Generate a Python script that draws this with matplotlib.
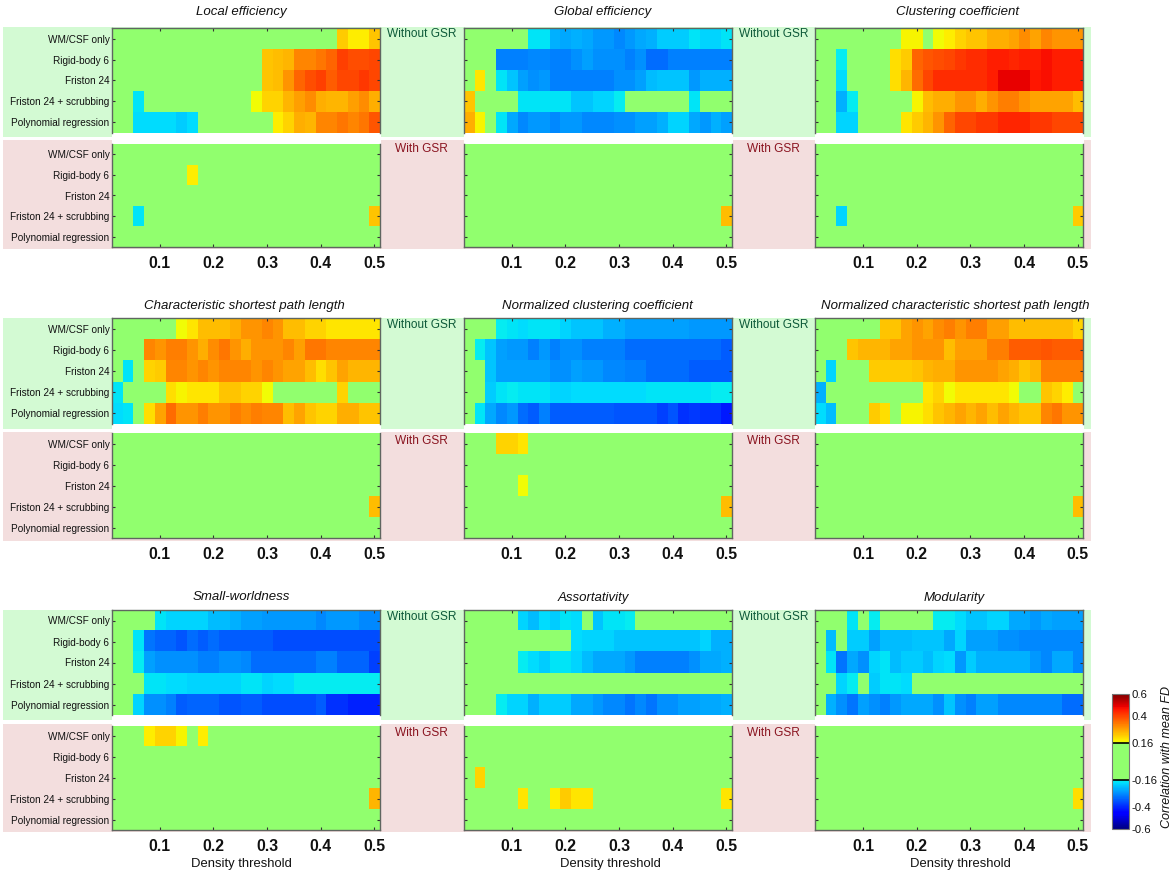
import numpy as np
import matplotlib
matplotlib.use('Agg')
import matplotlib as mpl
from matplotlib import pyplot as plt
from matplotlib.colors import ListedColormap
from matplotlib.patches import Rectangle

plt.rcParams['font.family'] = ['Liberation Sans', 'DejaVu Sans']
plt.rcParams['axes.unicode_minus'] = False

W, H = 1174, 872

strategies = ['WM/CSF only', 'Rigid-body 6', 'Friston 24', 'Friston 24 + scrubbing', 'Polynomial regression']
density_ticks = [0.1, 0.2, 0.3, 0.4, 0.5]
density_labels = ['0.1', '0.2', '0.3', '0.4', '0.5']
density_edges = [0.01, 0.51]
cbar_ticks = [0.6, 0.4, 0.16, -0.16, -0.4, -0.6]
cbar_labels = ['0.6', '0.4', '0.16', '-0.16', '-0.4', '-0.6']

blank = [0] * 25

# correlation with mean FD, one row per strategy, columns are density 0.02 .. 0.50
local_eff = [
    [0,0,0,0,0,0,0,0,0,0,0,0,0,0,0,0,0,0,0,0,0,.23,.19,.19,.24],
    [0,0,0,0,0,0,0,0,0,0,0,0,0,0,.24,.25,.26,.32,.32,.34,.36,.41,.39,.39,.40],
    [0,0,0,0,0,0,0,0,0,0,0,0,0,0,.24,.25,.30,.36,.39,.41,.37,.40,.40,.42,.40],
    [0,0,-.18,0,0,0,0,0,0,0,0,0,0,.17,.22,.22,.26,.29,.31,.27,.26,.26,.29,.31,.27],
    [0,0,-.19,-.19,-.19,-.19,-.21,-.19,0,0,0,0,0,0,0,.19,.22,.27,.26,.32,.32,.34,.32,.34,.38],
]
local_eff_gsr = [
    blank,
    [0,0,0,0,0,0,0,.19,0,0,0,0,0,0,0,0,0,0,0,0,0,0,0,0,0],
    blank,
    [0,0,-.18,0,0,0,0,0,0,0,0,0,0,0,0,0,0,0,0,0,0,0,0,0,.24],
    blank,
]

global_eff = [
    [0,0,0,0,0,0,-.18,-.18,-.24,-.25,-.24,-.25,-.27,-.27,-.29,-.27,-.25,-.24,-.21,-.21,-.21,-.18,-.20,-.20,-.18],
    [0,0,0,-.30,-.30,-.30,-.29,-.29,-.30,-.30,-.28,-.26,-.28,-.28,-.28,-.30,-.28,-.32,-.32,-.30,-.30,-.30,-.30,-.30,-.30],
    [0,.20,0,-.18,-.22,-.26,-.28,-.27,-.30,-.30,-.30,-.30,-.30,-.30,-.28,-.28,-.26,-.23,-.22,-.22,-.22,-.27,-.24,-.24,-.24],
    [.24,0,0,0,0,-.18,-.18,-.18,-.18,-.18,-.22,-.22,-.20,-.20,-.17,0,0,0,0,0,0,-.18,0,0,0],
    [.27,.18,0,-.18,-.25,-.29,-.27,-.27,-.29,-.27,-.27,-.29,-.29,-.29,-.28,-.28,-.26,-.26,-.24,-.20,-.20,-.25,-.27,-.24,-.26],
]
global_eff_gsr = [
    blank,
    blank,
    blank,
    [0,0,0,0,0,0,0,0,0,0,0,0,0,0,0,0,0,0,0,0,0,0,0,0,.25],
    blank,
]

clustering = [
    [0,0,0,0,0,0,0,0,.18,.18,0,.17,.19,.22,.24,.24,.27,.27,.28,.31,.28,.32,.30,.30,.30],
    [0,0,-.17,0,0,0,0,.21,.23,.36,.38,.39,.40,.42,.43,.43,.45,.45,.44,.45,.45,.47,.45,.45,.45],
    [0,0,-.19,0,0,0,0,.21,.26,.35,.40,.43,.43,.43,.43,.43,.45,.49,.49,.49,.46,.47,.45,.45,.45],
    [0,0,-.24,-.17,0,0,0,0,0,.18,.25,.27,.27,.30,.30,.27,.30,.33,.33,.30,.28,.28,.28,.28,.25],
    [0,0,-.20,-.20,0,0,0,0,.20,.23,.26,.30,.36,.40,.40,.42,.42,.44,.44,.44,.42,.42,.40,.40,.40],
]
clustering_gsr = [
    blank,
    blank,
    blank,
    [0,0,-.20,0,0,0,0,0,0,0,0,0,0,0,0,0,0,0,0,0,0,0,0,0,.23],
    blank,
]

path_len = [
    [0,0,0,0,0,0,.17,.20,.25,.25,.25,.27,.30,.30,.32,.30,.25,.25,.22,.22,.20,.20,.20,.20,.20],
    [0,0,0,.32,.30,.33,.33,.30,.27,.31,.34,.30,.27,.30,.30,.30,.32,.29,.34,.34,.32,.32,.32,.32,.32],
    [0,-.18,0,.22,.23,.32,.32,.30,.32,.30,.32,.32,.32,.30,.32,.30,.28,.28,.25,.21,.24,.28,.26,.26,.26],
    [-.18,0,0,0,0,.21,.18,.20,.20,.20,.24,.24,.22,.22,.17,0,0,0,0,0,0,.22,0,0,0],
    [-.19,-.18,0,.21,.28,.35,.30,.30,.33,.30,.30,.33,.31,.33,.32,.32,.25,.28,.24,.22,.22,.27,.27,.24,.24],
]
path_len_gsr = [
    blank,
    blank,
    blank,
    [0,0,0,0,0,0,0,0,0,0,0,0,0,0,0,0,0,0,0,0,0,0,0,0,.25],
    blank,
]

norm_clustering = [
    [0,0,0,-.17,-.18,-.19,-.18,-.18,-.18,-.20,-.22,-.22,-.22,-.24,-.24,-.26,-.26,-.26,-.26,-.26,-.26,-.27,-.27,-.27,-.27],
    [0,-.17,-.22,-.26,-.27,-.27,-.30,-.27,-.30,-.28,-.28,-.30,-.30,-.30,-.30,-.32,-.32,-.32,-.32,-.32,-.32,-.32,-.32,-.32,-.34],
    [0,0,-.22,-.26,-.26,-.26,-.26,-.26,-.28,-.28,-.26,-.27,-.27,-.29,-.29,-.30,-.30,-.32,-.32,-.32,-.32,-.34,-.34,-.34,-.34],
    [0,0,-.21,-.18,-.17,-.18,-.18,-.18,-.20,-.20,-.19,-.19,-.19,-.19,-.19,-.19,-.19,-.18,-.18,-.18,-.18,-.18,-.18,-.17,-.17],
    [0,-.18,-.25,-.29,-.27,-.32,-.34,-.30,-.34,-.34,-.34,-.34,-.34,-.34,-.35,-.35,-.35,-.35,-.37,-.35,-.39,-.38,-.39,-.39,-.42],
]
norm_clustering_gsr = [
    [0,0,0,.22,.22,.20,0,0,0,0,0,0,0,0,0,0,0,0,0,0,0,0,0,0,0],
    blank,
    [0,0,0,0,0,.17,0,0,0,0,0,0,0,0,0,0,0,0,0,0,0,0,0,0,0],
    [0,0,0,0,0,0,0,0,0,0,0,0,0,0,0,0,0,0,0,0,0,0,0,0,.25],
    blank,
]

norm_path_len = [
    [0,0,0,0,0,0,.24,.24,.28,.30,.28,.31,.33,.30,.33,.33,.29,.29,.25,.25,.25,.25,.25,.25,.22],
    [0,0,0,.24,.26,.26,.26,.28,.28,.30,.30,.30,.25,.29,.29,.29,.33,.33,.37,.37,.37,.38,.37,.37,.37],
    [0,-.20,0,0,0,.23,.23,.23,.23,.24,.26,.27,.27,.30,.30,.30,.30,.28,.27,.24,.26,.33,.33,.33,.33],
    [-.24,0,0,0,0,0,0,0,0,0,.20,.22,.17,.20,.20,.20,.20,.20,.17,0,0,.24,.22,.19,0],
    [-.19,-.23,0,0,0,.23,.21,0,.18,.18,.21,.24,.26,.28,.26,.28,.25,.28,.26,.24,.24,.32,.34,.30,.30],
]
norm_path_len_gsr = [
    blank,
    blank,
    blank,
    [0,0,0,0,0,0,0,0,0,0,0,0,0,0,0,0,0,0,0,0,0,0,0,0,.25],
    blank,
]

small_world = [
    [0,0,0,0,-.18,-.20,-.20,-.20,-.20,-.23,-.23,-.24,-.26,-.26,-.27,-.27,-.27,-.27,-.27,-.29,-.27,-.27,-.27,-.29,-.29],
    [0,0,-.18,-.31,-.33,-.33,-.35,-.32,-.34,-.32,-.34,-.34,-.34,-.34,-.34,-.36,-.36,-.36,-.36,-.36,-.36,-.36,-.36,-.36,-.36],
    [0,0,-.17,-.26,-.28,-.28,-.28,-.28,-.30,-.30,-.28,-.28,-.29,-.32,-.32,-.32,-.32,-.32,-.32,-.30,-.30,-.33,-.33,-.33,-.37],
    [0,0,0,-.18,-.18,-.19,-.19,-.20,-.20,-.20,-.20,-.20,-.18,-.18,-.20,-.19,-.19,-.17,-.17,-.17,-.17,-.17,-.17,-.17,-.17],
    [0,0,-.20,-.28,-.28,-.30,-.34,-.33,-.33,-.33,-.35,-.35,-.34,-.34,-.36,-.36,-.36,-.36,-.36,-.34,-.39,-.39,-.41,-.41,-.41],
]
small_world_gsr = [
    [0,0,0,.19,.22,.22,.18,0,.19,0,0,0,0,0,0,0,0,0,0,0,0,0,0,0,0],
    blank,
    blank,
    [0,0,0,0,0,0,0,0,0,0,0,0,0,0,0,0,0,0,0,0,0,0,0,0,.26],
    blank,
]

assortativity = [
    [0,0,0,0,0,-.20,-.23,-.19,-.21,-.18,-.19,0,-.22,-.18,-.18,-.17,0,0,0,0,0,0,0,0,0],
    [0,0,0,0,0,0,0,0,0,0,-.19,-.20,-.20,-.20,-.22,-.22,-.22,-.22,-.22,-.22,-.22,-.22,-.20,-.24,-.24],
    [0,0,0,0,0,-.17,-.19,-.21,-.18,-.18,-.20,-.23,-.25,-.25,-.25,-.27,-.30,-.30,-.30,-.30,-.30,-.28,-.25,-.25,-.24],
    blank,
    [0,0,0,-.17,-.20,-.20,-.24,-.21,-.21,-.21,-.25,-.25,-.27,-.29,-.29,-.31,-.29,-.31,-.28,-.28,-.26,-.26,-.25,-.25,-.24],
]
assortativity_gsr = [
    blank,
    blank,
    [0,.22,0,0,0,0,0,0,0,0,0,0,0,0,0,0,0,0,0,0,0,0,0,0,0],
    [0,0,0,0,0,.20,0,0,.19,.23,.20,.20,0,0,0,0,0,0,0,0,0,0,0,0,.20],
    blank,
]

modularity = [
    [0,0,0,-.18,0,-.17,0,0,0,0,0,-.17,-.17,-.19,-.22,-.22,-.20,-.20,-.25,-.25,-.27,-.25,-.26,-.26,-.26],
    [0,-.23,0,-.21,-.21,-.26,-.23,-.23,-.23,-.22,-.22,-.22,-.25,-.20,-.26,-.26,-.26,-.28,-.28,-.29,-.29,-.29,-.29,-.29,-.29],
    [0,-.18,-.31,-.25,-.28,-.20,-.18,-.23,-.21,-.21,-.23,-.20,-.19,-.27,-.21,-.24,-.24,-.24,-.24,-.24,-.27,-.29,-.25,-.25,-.29],
    [0,0,-.20,-.17,0,-.21,-.18,-.18,-.19,0,0,0,0,0,0,0,0,0,0,0,0,0,0,0,0],
    [0,-.24,-.28,-.31,-.26,-.28,-.30,-.27,-.25,-.25,-.25,-.28,-.22,-.28,-.30,-.26,-.26,-.29,-.29,-.29,-.29,-.29,-.29,-.32,-.32],
]
modularity_gsr = [
    blank,
    blank,
    blank,
    [0,0,0,0,0,0,0,0,0,0,0,0,0,0,0,0,0,0,0,0,0,0,0,0,.21],
    blank,
]

titles = [
    'Local efficiency', 'Global efficiency', 'Clustering coefficient',
    'Characteristic shortest path length', 'Normalized clustering coefficient',
    'Normalized characteristic shortest path length',
    'Small-worldness', 'Assortativity', 'Modularity',
]
no_gsr = [local_eff, global_eff, clustering, path_len, norm_clustering, norm_path_len,
          small_world, assortativity, modularity]
with_gsr = [local_eff_gsr, global_eff_gsr, clustering_gsr, path_len_gsr, norm_clustering_gsr,
            norm_path_len_gsr, small_world_gsr, assortativity_gsr, modularity_gsr]

# layout, in pixels of the 1174x872 picture
panel_x = [(111.5, 379.5), (463.5, 731.5), (815, 1083)]
# top heatmap top/bottom, bottom heatmap top/bottom, green band, pink band
row_y = [
    dict(top=(28.3, 132.7), bot=(144, 247), green=(26.7, 136.7), pink=(140, 248.7), title=11.5),
    dict(top=(318.3, 424), bot=(433.3, 538.3), green=(318, 428.7), pink=(432.3, 540.7), title=305.5),
    dict(top=(610, 715), bot=(725.7, 830), green=(609.7, 720), pink=(724, 831.7), title=597.5),
]
title_x = [241.7, 602.7, 958, 244, 597, 955.7, 241.7, 593, 954]
xlabel_x = [241, 610.7, 960.7]

GREEN_BG = '#d3fad3'
PINK_BG = '#f3dede'
MID_GREEN = '#91ff6e'
SPINE = '#5f6660'

# jet with everything below |r| = 0.16 painted one flat green
values = np.linspace(-0.6, 0.6, 600)
colors = mpl.colormaps['jet'](np.linspace(0, 1, 600))
colors[np.abs(values) < 0.16] = mpl.colors.to_rgba(MID_GREEN)
cmap = ListedColormap(colors)


def px_axes(fig, x0, x1, y0, y1):
    return fig.add_axes([x0 / W, 1 - y1 / H, (x1 - x0) / W, (y1 - y0) / H])


def px_rect(fig, x0, x1, y0, y1, color, z=-2):
    fig.add_artist(Rectangle((x0 / W, 1 - y1 / H), (x1 - x0) / W, (y1 - y0) / H,
                             transform=fig.transFigure, fc=color, ec='none', zorder=z))


def px_text(fig, x, y, s, **kw):
    fig.text(x / W, 1 - y / H, s, ha=kw.pop('ha', 'center'), va=kw.pop('va', 'center'), **kw)


def heat(fig, data, xr, yr, left, upper):
    ax = px_axes(fig, xr[0], xr[1], yr[0], yr[1])
    im = ax.imshow(np.array(data, dtype=float), cmap=cmap, vmin=-0.6, vmax=0.6, aspect='auto',
                   interpolation='nearest',
                   extent=[density_edges[0], density_edges[1], 4.5, -0.5])
    ax.set_xticks(density_ticks)
    ax.set_yticks(range(5))
    ax.tick_params(axis='both', direction='in', length=2.5, width=0.8, color='#333333',
                   left=True, right=True, top=upper, bottom=not upper,
                   labeltop=False, labelbottom=False, labelleft=left, pad=1.5)
    if left:
        ax.set_yticklabels(strategies, fontsize=7.2, color='#111111')
    for name, sp in ax.spines.items():
        sp.set_color(SPINE)
        sp.set_linewidth(1.0)
    ax.spines['bottom' if upper else 'top'].set_visible(False)
    return ax, im


fig = plt.figure(figsize=(W / 100, H / 100), dpi=100)

for r, rows in enumerate(row_y):
    px_rect(fig, 3, 1091, rows['green'][0], rows['green'][1], GREEN_BG)
    px_rect(fig, 3, 1091, rows['pink'][0], rows['pink'][1], PINK_BG)
    for c, xr in enumerate(panel_x):
        i = r * 3 + c
        # white strip between the two heatmaps
        px_rect(fig, xr[0], xr[1] + 1, rows['top'][1], rows['bot'][0], 'white', z=-1)
        _, im = heat(fig, no_gsr[i], xr, rows['top'], c == 0, True)
        ax, im = heat(fig, with_gsr[i], xr, rows['bot'], c == 0, False)
        ax.tick_params(axis='x', labelbottom=True, pad=6.5)
        ax.set_xticklabels(density_labels, fontsize=11.4, fontweight='bold', color='#111111')
        px_text(fig, title_x[i], rows['title'], titles[i], fontsize=9.5, style='italic', color='#111111')
        if r == 2:
            px_text(fig, xlabel_x[c], 863.5, 'Density threshold', fontsize=9.4, color='#111111')
        if c < 2:
            mid = (xr[1] + panel_x[c + 1][0]) / 2
            px_text(fig, mid, rows['green'][0] + 7.5, 'Without GSR', fontsize=8.6, color='#0e5a3a')
            px_text(fig, mid, rows['pink'][0] + 9, 'With GSR', fontsize=8.6, color='#8a1420')

# colorbar
cax = px_axes(fig, 1112.3, 1129, 693.7, 829.3)
cb = fig.colorbar(im, cax=cax, ticks=cbar_ticks)
cb.ax.set_yticklabels(cbar_labels, fontsize=8.2, color='#111111')
cb.ax.tick_params(length=0, pad=2)
cb.outline.set_edgecolor('#777777')
cb.outline.set_linewidth(0.8)
cax.axhline(0.16, color='black', lw=1.2)
cax.axhline(-0.16, color='black', lw=1.2)
px_text(fig, 1167, 757, 'Correlation with mean FD', rotation=90, fontsize=9, style='italic', color='#111111')

fig.savefig('out.png', dpi=100)
